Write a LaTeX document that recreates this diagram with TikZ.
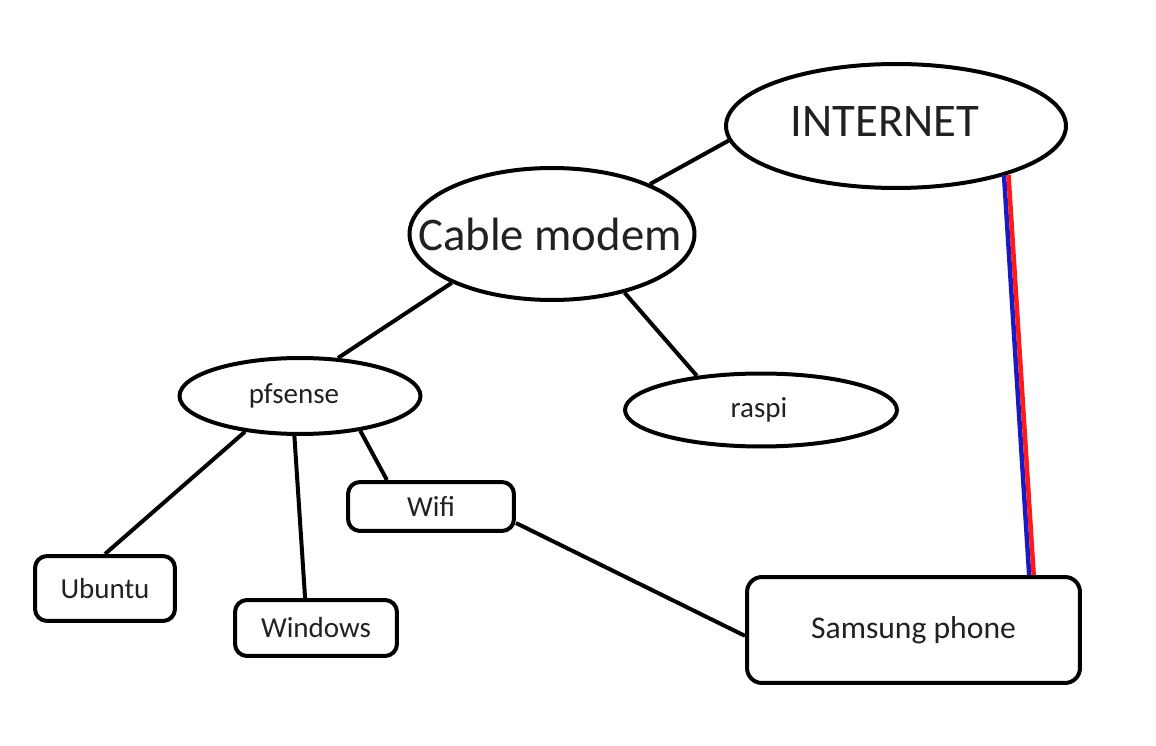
\documentclass[tikz,border=0pt]{standalone}
\usepackage{fontspec}
\setmainfont{Carlito}
\usepackage{tikz}
\usetikzlibrary{shapes.geometric}

\begin{document}
\begin{tikzpicture}[
      x=0.02cm, y=-0.02cm,
      bigoval/.style={draw, ellipse, line width=0.08cm, inner sep=0pt},
      bigtext/.style={font=\fontsize{26.6}{30}\selectfont, text=black!87},
      oval/.style={draw, ellipse, line width=0.08cm, inner sep=0pt},
      smalltext/.style={font=\fontsize{16.5}{19}\selectfont, text=black!87},
      devbox/.style={draw, rounded corners=0.24cm, line width=0.08cm, inner sep=0pt,
                     smalltext},
      wire/.style={line width=0.08cm},
      uplink/.style={line width=0.09cm}
    ]
    \useasboundingbox (0,0) rectangle (1156,746);

    %% ---- clouds and hosts (text as centred labels so the ovals keep their size) ----
    \node[bigoval, minimum width=6.8cm, minimum height=2.48cm,
          label={[bigtext, xshift=-0.22cm, yshift=0.08cm]center:INTERNET}] at (896,126) (inet) {};
    \node[bigoval, minimum width=5.7cm, minimum height=2.64cm,
          label={[bigtext, xshift=-0.04cm]center:Cable modem}] at (552,234) (modem) {};
    \node[oval, minimum width=4.82cm, minimum height=1.52cm,
          label={[smalltext, xshift=-0.12cm]center:pfsense}] at (300,396) (pfsense) {};
    \node[oval, minimum width=5.44cm, minimum height=1.46cm,
          label={[smalltext, xshift=-0.04cm]center:raspi}] at (761,410) (raspi) {};

    %% ---- boxes ----
    \node[devbox, minimum width=3.32cm, minimum height=0.98cm] at (431,506.5) (wifi) {Wifi};
    \node[devbox, minimum width=2.80cm, minimum height=1.30cm] at (105,588.5) (ubuntu) {Ubuntu};
    \node[devbox, minimum width=3.24cm, minimum height=1.12cm] at (316,628) (windows) {Windows};
    \node[devbox, rounded corners=0.3cm, minimum width=6.66cm, minimum height=2.12cm,
          font=\fontsize{18}{21}\selectfont] at (913.5,630) (phone) {Samsung phone};

    %% ---- edges ----
    \draw[wire] (modem.27) -- (inet.185);
    \draw[wire] (modem.206) -- (pfsense.45);
    \draw[wire] (modem.-39) -- (raspi.152);
    \draw[wire] (pfsense.-147) -- (ubuntu.north);
    \draw[wire] (pfsense.-98) -- (windows.110);
    \draw[wire] (pfsense.-30) -- (wifi.149);
    \draw[wire] (wifi.-11) -- (phone.182);

    %% mobile uplink (blue + red pair)
    \draw[uplink, blue!75!black!90, transform canvas={xshift=-0.045cm}] (inet.-24) -- (phone.25.5);
    \draw[uplink, red!90, transform canvas={xshift=0.045cm}] (inet.-24) -- (phone.25.5);

  \end{tikzpicture}
\end{document}
